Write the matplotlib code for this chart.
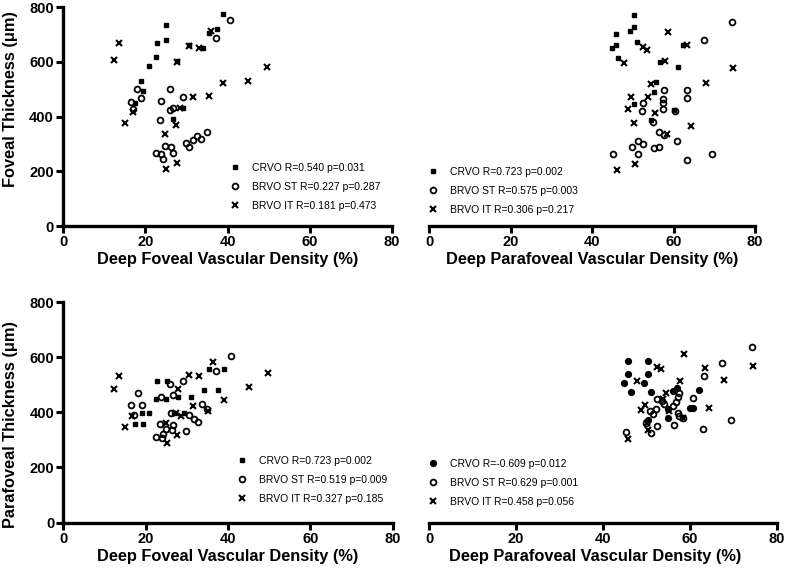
import matplotlib
matplotlib.use("Agg")
import matplotlib.pyplot as plt

plt.rcParams['font.family'] = ['Liberation Sans', 'DejaVu Sans']

# ---------------- data ----------------
# Panel A: Foveal thickness vs deep foveal vascular density
a_crvo_x = [39.0, 25.1, 22.8, 25.0, 22.6, 20.9, 18.9, 19.5, 27.8, 30.7, 34.1, 35.4, 37.5, 26.7, 29.2, 17.5]
a_crvo_y = [776, 734, 667, 679, 616, 584, 530, 494, 602, 663, 651, 706, 718, 390, 430, 448]
a_st_x = [40.6, 37.1, 18.1, 18.9, 16.5, 17.1, 23.8, 26.0, 29.3, 26.7, 25.9, 23.6, 22.5, 23.8, 24.3, 24.9,
          26.3, 26.8, 29.9, 30.6, 31.7, 32.7, 33.6, 35.0]
a_st_y = [752, 685, 499, 468, 454, 426, 457, 502, 472, 430, 423, 387, 265, 263, 243, 292,
          289, 265, 302, 287, 314, 330, 316, 344]
a_it_x = [12.4, 13.5, 15.1, 16.9, 27.8, 30.7, 33.1, 36.0, 38.9, 45.1, 49.6, 31.5, 35.4, 28.5, 27.4, 24.9, 27.6, 25.0]
a_it_y = [608, 667, 377, 417, 600, 657, 651, 713, 523, 529, 581, 472, 475, 430, 369, 336, 229, 207]

# Panel B: Foveal thickness vs deep parafoveal vascular density
b_crvo_x = [50.4, 50.4, 49.3, 45.9, 45.9, 45.0, 51.0, 46.5, 56.7, 61.0, 62.3, 55.6, 55.3, 50.3, 54.6, 60.0]
b_crvo_y = [770, 727, 712, 701, 663, 649, 673, 612, 600, 579, 661, 527, 488, 444, 387, 423]
b_st_x = [74.3, 67.5, 57.7, 63.2, 63.2, 57.5, 57.5, 52.4, 52.3, 57.5, 60.4, 54.9, 56.4, 57.7, 60.8, 51.4,
          52.4, 49.8, 55.2, 56.4, 45.2, 51.2, 69.5, 63.2]
b_st_y = [745, 678, 495, 496, 468, 464, 448, 450, 421, 426, 421, 381, 342, 332, 311, 311,
          299, 289, 284, 287, 264, 262, 264, 240]
b_it_x = [58.7, 63.4, 52.6, 53.4, 47.9, 58.0, 74.7, 68.0, 54.5, 49.6, 53.7, 48.8, 55.5, 50.4, 64.3, 58.3, 50.6, 46.1]
b_it_y = [708, 663, 655, 642, 594, 602, 576, 523, 517, 470, 470, 426, 411, 375, 365, 335, 225, 204]

# Panel C: Parafoveal thickness vs deep foveal vascular density
c_crvo_x = [22.8, 25.1, 22.5, 24.9, 27.9, 30.9, 34.2, 37.5, 35.5, 39.0, 19.0, 20.8, 17.4, 19.3, 27.0, 29.4]
c_crvo_y = [513, 513, 448, 448, 457, 457, 482, 482, 557, 557, 397, 397, 357, 357, 397, 397]
c_st_x = [40.7, 37.1, 18.1, 16.4, 19.0, 17.2, 23.7, 26.0, 29.1, 26.6, 26.1, 30.5, 31.8, 32.8, 33.6, 35.0,
          23.5, 26.7, 24.9, 26.3, 24.3, 22.5, 24.0, 29.8]
c_st_y = [605, 551, 470, 427, 427, 391, 457, 504, 512, 464, 397, 391, 376, 364, 430, 412,
          358, 352, 340, 334, 321, 310, 306, 333]
c_it_x = [13.5, 12.3, 15.1, 16.6, 27.8, 30.6, 33.0, 36.3, 39.0, 45.2, 49.7, 31.6, 35.2, 27.3, 28.6, 24.9, 27.5, 25.1]
c_it_y = [533, 484, 346, 385, 484, 534, 530, 583, 445, 492, 543, 424, 403, 397, 385, 361, 318, 288]

# Panel D: Parafoveal thickness vs deep parafoveal vascular density
d_crvo_x = [45.7, 50.3, 45.7, 50.3, 44.9, 49.5, 46.5, 51.1, 57.0, 56.1, 62.2, 54.9, 60.0, 60.7, 50.3, 55.0]
d_crvo_y = [585, 585, 540, 540, 506, 506, 472, 472, 488, 478, 482, 412, 416, 416, 373, 379]
d_st_x = [74.3, 67.5, 63.3, 60.7, 57.3, 56.8, 56.2, 52.4, 52.2, 51.4, 49.9, 52.4, 51.1, 45.2, 57.6, 56.4,
          63.1, 69.5, 57.4, 57.3, 58.5, 53.5, 50.8, 54.0]
d_st_y = [637, 579, 533, 452, 454, 437, 421, 449, 412, 393, 361, 351, 324, 328, 385, 355,
          339, 372, 470, 399, 379, 440, 405, 430]
d_it_x = [58.7, 52.5, 53.3, 63.5, 74.6, 67.9, 47.8, 57.7, 54.5, 53.8, 64.3, 49.7, 48.7, 55.3, 58.5, 50.4, 45.8, 50.1]
d_it_y = [613, 563, 558, 561, 569, 518, 512, 515, 470, 448, 417, 427, 409, 403, 379, 336, 303, 361]

x_ticks = [0, 20, 40, 60, 80]
y_ticks = [0, 200, 400, 600, 800]

labels_a = ["CRVO R=0.540 p=0.031", "BRVO ST R=0.227 p=0.287", "BRVO IT R=0.181 p=0.473"]
labels_b = ["CRVO R=0.723 p=0.002", "BRVO ST R=0.575 p=0.003", "BRVO IT R=0.306 p=0.217"]
labels_c = ["CRVO R=0.723 p=0.002", "BRVO ST R=0.519 p=0.009", "BRVO IT R=0.327 p=0.185"]
labels_d = ["CRVO R=-0.609 p=0.012", "BRVO ST R=0.629 p=0.001", "BRVO IT R=0.458 p=0.056"]

xlabel_fov = "Deep Foveal Vascular Density (%)"
xlabel_para = "Deep Parafoveal Vascular Density (%)"
ylabel_top = "Foveal Thickness (\u03bcm)"
ylabel_bot = "Parafoveal Thickness (\u03bcm)"

# ---------------- figure ----------------
W, H = 787, 575
fig = plt.figure(figsize=(W / 100, H / 100), dpi=100)


def px_axes(l, r, top, bot):
    return fig.add_axes([l / W, (H - bot) / H, (r - l) / W, (bot - top) / H])


axA = px_axes(63, 392, 7, 226)
axB = px_axes(429, 755, 7, 226)
axC = px_axes(63.3, 392.7, 302, 522.5)
axD = px_axes(429.3, 776.7, 302, 522.5)

sq = dict(marker='s', color='black', ms=3.0, ls='none', clip_on=False)
circ = dict(marker='o', mfc='none', mec='black', mew=1.3, ms=4.2, ls='none', clip_on=False)
crs = dict(marker='x', color='black', mew=1.5, ms=4.0, ls='none', clip_on=False)
dot = dict(marker='o', color='black', ms=4.2, ls='none', clip_on=False)


def style(ax, show_y):
    ax.set_xlim(0, 80)
    ax.set_ylim(0, 800)
    ax.set_xticks(x_ticks)
    for s in ['top', 'right']:
        ax.spines[s].set_visible(False)
    ax.spines['bottom'].set_linewidth(2.4)
    ax.spines['left'].set_linewidth(2.4)
    ax.tick_params(axis='both', width=2.2, length=5, pad=1.5, labelsize=10.5)
    for t in ax.get_xticklabels():
        t.set_fontweight('bold')
    if show_y:
        ax.set_yticks(y_ticks)
        for t in ax.get_yticklabels():
            t.set_fontweight('bold')
    else:
        ax.spines['left'].set_visible(False)
        ax.set_yticks([])
    ax.patch.set_alpha(0)


def legend(ax, handles, labels, xpx, ypx):
    ax.legend(handles, labels, loc='upper left', bbox_to_anchor=(xpx / W, 1 - ypx / H),
              bbox_transform=fig.transFigure, frameon=False, fontsize=7.5,
              handletextpad=1.1, labelspacing=0.85, handlelength=1.0, borderpad=0, borderaxespad=0)


hA = [axA.plot(a_crvo_x, a_crvo_y, **sq)[0], axA.plot(a_st_x, a_st_y, **circ)[0], axA.plot(a_it_x, a_it_y, **crs)[0]]
hB = [axB.plot(b_crvo_x, b_crvo_y, **sq)[0], axB.plot(b_st_x, b_st_y, **circ)[0], axB.plot(b_it_x, b_it_y, **crs)[0]]
hC = [axC.plot(c_crvo_x, c_crvo_y, **sq)[0], axC.plot(c_st_x, c_st_y, **circ)[0], axC.plot(c_it_x, c_it_y, **crs)[0]]
hD = [axD.plot(d_crvo_x, d_crvo_y, **dot)[0], axD.plot(d_st_x, d_st_y, **circ)[0], axD.plot(d_it_x, d_it_y, **crs)[0]]

style(axA, True)
style(axB, False)
style(axC, True)
style(axD, False)

legend(axA, hA, labels_a, 230, 163)
legend(axB, hB, labels_b, 428, 167)
legend(axC, hC, labels_c, 237, 456)
legend(axD, hD, labels_d, 428, 459)

lab = dict(fontsize=11.8, fontweight='bold')
axA.set_xlabel(xlabel_fov, **lab)
axB.set_xlabel(xlabel_para, **lab)
axC.set_xlabel(xlabel_fov, **lab)
axD.set_xlabel(xlabel_para, **lab)
axA.set_ylabel(ylabel_top, **lab)
axC.set_ylabel(ylabel_bot, **lab)

axA.xaxis.set_label_coords(0.5, -0.12)
axB.xaxis.set_label_coords(0.5, -0.12)
axC.xaxis.set_label_coords(0.5, -0.12)
axD.xaxis.set_label_coords((595 - 429.3) / 347.4, -0.12)
axA.yaxis.set_label_coords((18 - 63) / 329, (226 - 99) / 219)
axC.yaxis.set_label_coords((18 - 63.3) / 329.4, (522.5 - 424) / 220.5)

fig.savefig("out.png", dpi=100)
